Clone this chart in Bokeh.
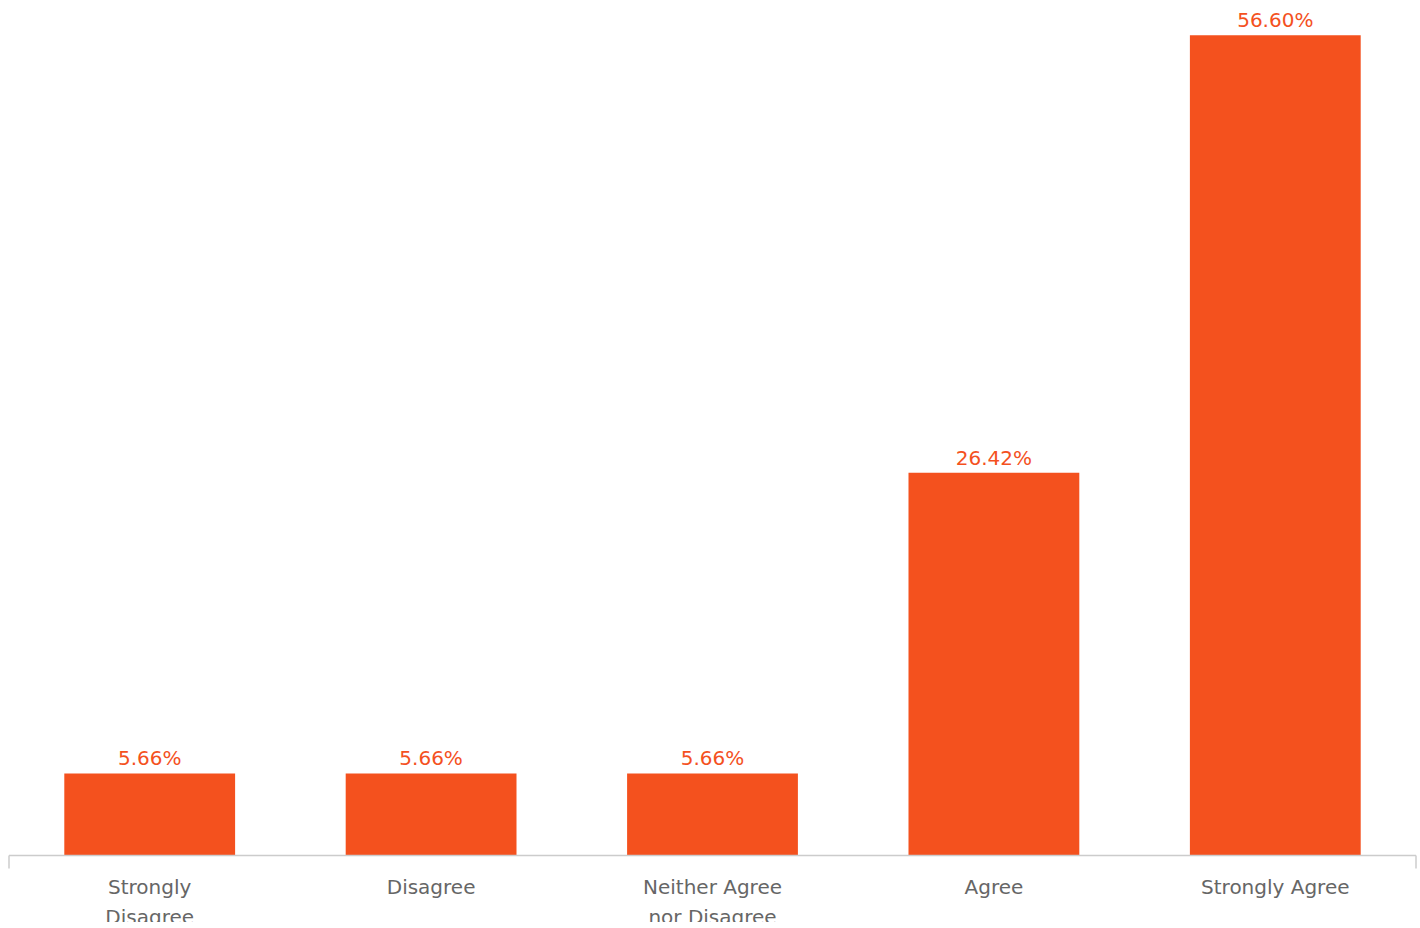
from bokeh.plotting import figure
from bokeh.models import ColumnDataSource, LabelSet, Range1d
from bokeh.core.properties import value
from bokeh.embed import file_html
from bokeh.resources import INLINE

categories = ["Strongly\nDisagree", "Disagree", "Neither Agree\nnor Disagree", "Agree", "Strongly Agree"]
values = [5.66, 5.66, 5.66, 26.42, 56.60]
value_labels = ["5.66%", "5.66%", "5.66%", "26.42%", "56.60%"]

BAR = "#F4511E"
AXIS = "#cccccc"
FONT = value("DejaVu Sans")

n = len(categories)
W, H = 1420, 922
left_px = 8.5                    # axis line start
px_per_x = 281.4                 # width of one category slot
axis_px = 855                    # axis line y (from top)
ymax = 59.0
px_per_y = axis_px / ymax

line1 = [c.split("\n")[0] for c in categories]
line2 = [c.split("\n")[1] if "\n" in c else "" for c in categories]

src = ColumnDataSource(dict(
    x=[i + 0.5 for i in range(n)],
    value=values,
    vlabel=value_labels,
    l1=line1,
    l2=line2,
    base=[0] * n,
))

p = figure(width=W, height=H,
           x_range=Range1d(-left_px / px_per_x, (W - left_px) / px_per_x),
           y_range=Range1d(-(H - axis_px) / px_per_y, ymax),
           x_axis_location=None, y_axis_location=None,
           output_backend="svg", toolbar_location=None,
           min_border_left=0, min_border_right=0, min_border_top=0, min_border_bottom=0)
p.outline_line_color = None
p.xgrid.visible = False
p.ygrid.visible = False

p.vbar(x="x", top="value", width=0.607, source=src, fill_color=BAR, line_color=None)

# axis line and end ticks
tick = 13 / px_per_y
p.segment(x0=[0], y0=[0], x1=[n], y1=[0], line_color=AXIS, line_width=1.5)
p.segment(x0=[0, n], y0=[0, 0], x1=[0, n], y1=[-tick, -tick], line_color=AXIS, line_width=1.5)

vl = LabelSet(x="x", y="value", text="vlabel", source=src, y_offset=8,
              text_align="center", text_baseline="alphabetic",
              text_color=BAR, text_font=FONT, text_font_size="20px")
p.add_layout(vl)

for col, off in (("l1", -19), ("l2", -49)):
    cl = LabelSet(x="x", y="base", text=col, source=src, y_offset=off,
                  text_align="center", text_baseline="top",
                  text_color="#666666", text_font=FONT, text_font_size="20px")
    p.add_layout(cl)

open("out.html", "w").write(file_html(p, INLINE))
